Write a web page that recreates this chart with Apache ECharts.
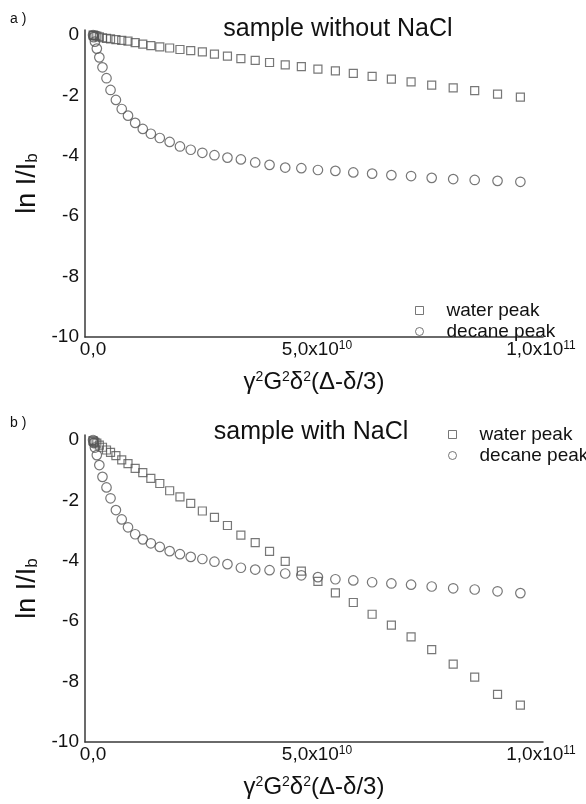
<!DOCTYPE html>
<html>
<head>
<meta charset="utf-8">
<script src="https://cdn.jsdelivr.net/npm/echarts@6/dist/echarts.min.js"></script>
<style>
  html, body { margin: 0; padding: 0; background: #fff; }
  #chart { width: 586px; height: 804px; }
</style>
</head>
<body>
<div id="chart"></div>
<script>
// x: gamma^2 G^2 delta^2 (Delta - delta/3), same gradient steps in both panels
const xValues = [0, 0.014e10, 0.042e10, 0.084e10, 0.14e10, 0.21e10, 0.30e10, 0.39e10, 0.51e10, 0.64e10,
  0.78e10, 0.94e10, 1.11e10, 1.29e10, 1.49e10, 1.71e10, 1.94e10, 2.18e10, 2.44e10, 2.71e10,
  3.00e10, 3.30e10, 3.62e10, 3.94e10, 4.29e10, 4.65e10, 5.02e10, 5.41e10, 5.81e10, 6.23e10,
  6.66e10, 7.10e10, 7.56e10, 8.04e10, 8.52e10, 9.03e10, 9.54e10];

// a) sample without NaCl
const waterA = [0, -0.01, -0.02, -0.04, -0.06, -0.09, -0.11, -0.13, -0.15, -0.18,
  -0.20, -0.25, -0.30, -0.35, -0.39, -0.43, -0.48, -0.52, -0.56, -0.63,
  -0.70, -0.78, -0.84, -0.91, -0.99, -1.05, -1.13, -1.19, -1.27, -1.37,
  -1.46, -1.55, -1.66, -1.75, -1.84, -1.96, -2.06];
const decaneA = [0, -0.07, -0.22, -0.45, -0.74, -1.07, -1.43, -1.82, -2.15, -2.45,
  -2.67, -2.91, -3.11, -3.27, -3.41, -3.54, -3.69, -3.80, -3.90, -3.98,
  -4.06, -4.12, -4.22, -4.30, -4.39, -4.41, -4.47, -4.50, -4.55, -4.59,
  -4.64, -4.67, -4.73, -4.77, -4.80, -4.83, -4.86];

// b) sample with NaCl
const waterB = [-0.02, -0.05, -0.08, -0.10, -0.17, -0.24, -0.33, -0.41, -0.52, -0.66,
  -0.78, -0.94, -1.08, -1.27, -1.44, -1.68, -1.88, -2.10, -2.35, -2.56,
  -2.83, -3.15, -3.40, -3.69, -4.02, -4.34, -4.68, -5.06, -5.38, -5.77,
  -6.13, -6.52, -6.94, -7.42, -7.85, -8.42, -8.78];
const decaneB = [0, -0.10, -0.25, -0.50, -0.83, -1.22, -1.57, -1.93, -2.32, -2.63,
  -2.89, -3.12, -3.29, -3.42, -3.54, -3.68, -3.78, -3.87, -3.94, -4.03,
  -4.11, -4.23, -4.29, -4.31, -4.42, -4.48, -4.54, -4.61, -4.65, -4.71,
  -4.75, -4.79, -4.85, -4.91, -4.95, -5.01, -5.07];

const xTicks = [0, 5e10, 1e11];
const xTickLabels = ['0,0', '5,0x10{sup|10}', '1,0x10{sup|11}'];
const yTicks = [-10, -8, -6, -4, -2, 0];
const titles = ['sample without NaCl', 'sample with NaCl'];
const panelTags = ['a )', 'b )'];

const font = 'Liberation Sans, Arial, sans-serif';
const markColor = '#555';

function pairs(ys) {
  return xValues.map(function (x, i) { return [x, ys[i]]; });
}

function xAxis(idx) {
  return {
    type: 'value', gridIndex: idx,
    min: -1.8e9, max: 1.0045e11,
    axisLine: { onZero: false, lineStyle: { color: '#3a3a3a', width: 1.5 } },
    axisTick: { show: false },
    splitLine: { show: false },
    axisLabel: {
      customValues: xTicks,
      margin: 3,
      fontSize: 19, fontFamily: font, color: '#111',
      formatter: function (v) { return xTickLabels[xTicks.indexOf(v)] || ''; },
      rich: { sup: { fontSize: 12, fontFamily: font, color: '#111', verticalAlign: 'top' } }
    },
    name: 'γ{sup|2}G{sup|2}δ{sup|2}(Δ-δ/3)',
    nameLocation: 'middle', nameGap: 33,
    nameTextStyle: {
      fontSize: 24, fontFamily: font, color: '#111',
      rich: { sup: { fontSize: 14, fontFamily: font, color: '#111', verticalAlign: 'top' } }
    }
  };
}

function yAxis(idx) {
  return {
    type: 'value', gridIndex: idx,
    min: -10, max: 0.166, interval: 2,
    axisLine: { onZero: false, lineStyle: { color: '#3a3a3a', width: 1.5 } },
    axisTick: { show: false },
    splitLine: { show: false },
    axisLabel: {
      customValues: yTicks,
      margin: 6, fontSize: 19, fontFamily: font, color: '#111'
    },
    name: 'ln I/I{sub|b}',
    nameLocation: 'middle', nameGap: 33,
    nameTextStyle: {
      fontSize: 27, fontFamily: font, color: '#111',
      rich: { sub: { fontSize: 17, fontFamily: font, color: '#111', verticalAlign: 'bottom', padding: [6, 0, 0, 0] } }
    }
  };
}

function legend(idx, left, top) {
  return {
    orient: 'vertical', left: left, top: top,
    itemWidth: 8, itemHeight: 8, itemGap: 0,
    data: ['water peak', 'decane peak'],
    selectedMode: false,
    itemStyle: { color: 'rgba(0,0,0,0)', borderColor: markColor, borderWidth: 1 },
    textStyle: { fontSize: 19, fontFamily: font, color: '#111', lineHeight: 21, padding: [0, 0, 0, 18] }
  };
}

function scatter(name, sym, size, ys, idx) {
  return {
    name: name, type: 'scatter', xAxisIndex: idx, yAxisIndex: idx,
    symbol: sym, symbolSize: size,
    itemStyle: { color: 'rgba(0,0,0,0)', borderColor: markColor, borderWidth: 1.2 },
    data: pairs(ys)
  };
}

const chart = echarts.init(document.getElementById('chart'));
chart.setOption({
  animation: false,
  backgroundColor: '#fff',
  title: [
    { text: titles[0], left: 333, top: 12, textAlign: 'center',
      textStyle: { fontSize: 25, fontWeight: 'normal', fontFamily: font, color: '#111' } },
    { text: titles[1], left: 306, top: 415, textAlign: 'center',
      textStyle: { fontSize: 25, fontWeight: 'normal', fontFamily: font, color: '#111' } }
  ],
  graphic: [
    { type: 'text', left: 10, top: 12, style: { text: panelTags[0], fontSize: 14, fontFamily: font, fill: '#111' } },
    { type: 'text', left: 10, top: 416, style: { text: panelTags[1], fontSize: 14, fontFamily: font, fill: '#111' } }
  ],
  grid: [
    { left: 85, top: 30, width: 458, height: 307 },
    { left: 85, top: 435, width: 458, height: 307 }
  ],
  xAxis: [xAxis(0), xAxis(1)],
  yAxis: [yAxis(0), yAxis(1)],
  legend: [legend(0, 410, 295), legend(1, 443, 419)],
  series: [
    scatter('water peak', 'rect', 8, waterA, 0),
    scatter('decane peak', 'circle', 9.5, decaneA, 0),
    scatter('water peak', 'rect', 8, waterB, 1),
    scatter('decane peak', 'circle', 9.5, decaneB, 1)
  ]
});
</script>
</body>
</html>
